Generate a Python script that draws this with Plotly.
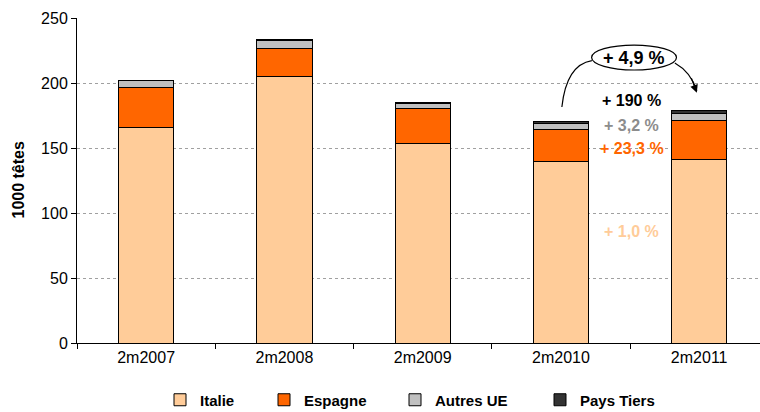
import plotly.graph_objects as go

# data (1000 têtes)
periods = ["2m2007", "2m2008", "2m2009", "2m2010", "2m2011"]
italie = [166.0, 204.8, 153.8, 140.0, 141.3]
espagne = [30.7, 22.0, 26.4, 24.4, 29.7]
autres_ue = [5.2, 6.0, 4.2, 4.7, 5.4]
pays_tiers = [0.3, 0.4, 0.9, 1.3, 2.6]

y_ticks = [0, 50, 100, 150, 200, 250]

# growth labels 2m2010 -> 2m2011
growth_total = "+ 4,9 %"
growth_labels = ["+ 190 %", "+ 3,2 %", "+ 23,3 %", "+ 1,0 %"]
growth_y = [186.9, 167.2, 149.8, 85.4]
growth_colors = ["#000000", "#8C8C8C", "#FF6600", "#FFCC99"]

FONT = "Liberation Sans, Arial, sans-serif"

series = [
    ("Italie", italie, "#FFCC99"),
    ("Espagne", espagne, "#FF6600"),
    ("Autres UE", autres_ue, "#C0C0C0"),
    ("Pays Tiers", pays_tiers, "#333333"),
]
# one legend per series so each entry sits where the original has it
legend_ids = ["legend", "legend2", "legend3", "legend4"]
legend_x = [160, 264, 395, 540]  # px from left edge of the page

fig = go.Figure()
for (name, vals, col), lg in zip(series, legend_ids):
    fig.add_trace(go.Bar(
        x=list(range(len(periods))),
        y=vals,
        name="<b>%s</b>" % name,
        legend=lg,
        showlegend=True,
        width=0.4,
        marker=dict(color=col, line=dict(color="#000000", width=1)),
    ))

ann = [
    # y axis title
    dict(xref="paper", yref="paper", x=(18 - 77) / 683, y=0.5, textangle=-90,
         xanchor="center", yanchor="middle",
         text="<b>1000 têtes</b>", showarrow=False,
         font=dict(family=FONT, size=16, color="#000000")),
    dict(x=3.527, y=219.6, text="<b>%s</b>" % growth_total, showarrow=False,
         font=dict(family=FONT, size=18, color="#000000")),
]
for txt, yy, col in zip(growth_labels, growth_y, growth_colors):
    ann.append(dict(x=3.513, y=yy, text="<b>%s</b>" % txt, showarrow=False,
                    font=dict(family=FONT, size=16, color=col)))
# arrow head at the end of the right curve
ann.append(dict(x=3.983, y=192.5, ax=-6, ay=-16, text="", showarrow=True,
                arrowhead=2, arrowsize=1.3, arrowwidth=1.2, arrowcolor="#000000"))

shapes = [
    dict(type="circle", xref="x", yref="y", x0=3.222, x1=3.836, y0=210, y1=229.2,
         line=dict(color="#000000", width=1.2), fillcolor="rgba(0,0,0,0)"),
    dict(type="path", xref="x", yref="y",
         path="M 3.007,181.5 Q 3.04,214 3.224,217.2",
         line=dict(color="#000000", width=1.2)),
    dict(type="path", xref="x", yref="y",
         path="M 3.824,215.4 Q 3.94,208.5 3.983,194",
         line=dict(color="#000000", width=1.2)),
]

layout_legends = {}
for lg, lx in zip(legend_ids, legend_x):
    layout_legends[lg] = dict(
        xref="container", yref="container",
        x=lx / 760, xanchor="left", y=1 - 400 / 412, yanchor="middle",
        orientation="h", bgcolor="rgba(0,0,0,0)", borderwidth=0,
        font=dict(family=FONT, size=15, color="#000000"),
        itemwidth=30, visible=True,
    )

fig.update_layout(
    barmode="stack",
    width=760, height=412,
    showlegend=True,
    margin=dict(l=77, r=0, t=18, b=69, autoexpand=False),
    paper_bgcolor="white", plot_bgcolor="white",
    font=dict(family=FONT, size=16, color="#000000"),
    annotations=ann,
    shapes=shapes,
    **layout_legends,
    xaxis=dict(
        range=[-0.5, 4.44],
        tickvals=list(range(len(periods))),
        ticktext=periods,
        showline=True, linecolor="#000000", linewidth=1,
        ticks="", showgrid=False, zeroline=False,
        tickfont=dict(size=16),
        automargin=False,
    ),
    yaxis=dict(
        range=[0, 250],
        tickvals=y_ticks,
        showline=True, linecolor="#000000", linewidth=1,
        ticks="outside", ticklen=5, tickcolor="#000000",
        showgrid=True, gridcolor="#A0A0A0", griddash="dot", gridwidth=1,
        zeroline=False,
        tickfont=dict(size=16),
        automargin=False,
    ),
)

# category separator ticks on the x axis
fig.update_xaxes(minor=dict(tickvals=[-0.5, 0.5, 1.5, 2.5, 3.5], ticks="outside",
                            ticklen=5, tickcolor="#000000"))

# drop the default page margin so the figure fills the window
fig.write_html("out.html", config={"displayModeBar": False},
               post_script="document.body.style.margin='0';")
